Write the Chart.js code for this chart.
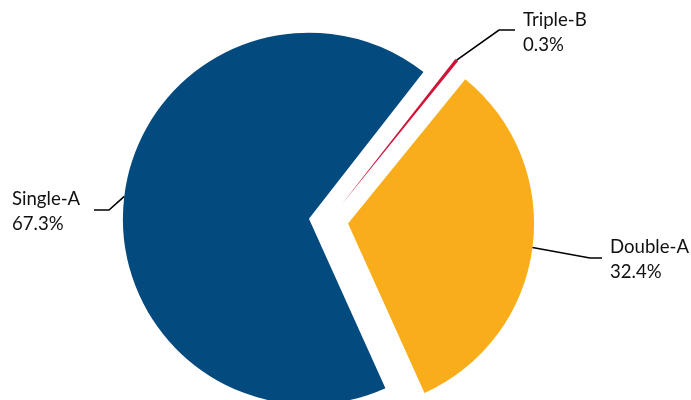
<!DOCTYPE html>
<html>
<head>
<meta charset="utf-8">
<script src="https://cdn.jsdelivr.net/npm/chart.js@4.4.1/dist/chart.umd.min.js"></script>
<style>
  html, body { margin: 0; padding: 0; background: #fff; overflow: hidden; }
  #wrap { position: relative; width: 691px; height: 400px; }
</style>
</head>
<body>
<div id="wrap"><canvas id="pieCanvas"></canvas></div>
<script>
// Datos del gráfico (orden horario desde arriba)
const categorias = ['Triple-B', 'Double-A', 'Single-A'];
const valores = [0.3, 32.4, 67.3];
const etiquetasPct = ['0.3%', '32.4%', '67.3%'];
const colores = ['#D0153A', '#F9AD1A', '#034A7E'];

// Separación de las porciones (px) y disposición de las etiquetas
const separacion = 19.7;
const guias = [
  { codo: [499, 30], fin: [515, 30], texto: [523, 26], alinear: 'left' },
  { codo: [590, 258], fin: [602, 258], texto: [610, 253], alinear: 'left' },
  { codo: [109, 210], fin: [94, 210], texto: [12, 205], alinear: 'left' }
];

// Dibuja cada porción desplazada hacia afuera (pie explotado)
const explotar = {
  id: 'explotar',
  beforeDatasetDraw(chart, args) {
    const ctx = chart.ctx;
    args.meta.data.forEach((arc) => {
      const mid = (arc.startAngle + arc.endAngle) / 2;
      ctx.save();
      ctx.translate(Math.cos(mid) * separacion, Math.sin(mid) * separacion);
      arc.draw(ctx);
      ctx.restore();
    });
    return false;
  }
};

// Líneas guía y etiquetas
const etiquetas = {
  id: 'etiquetas',
  afterDatasetsDraw(chart) {
    const ctx = chart.ctx;
    const meta = chart.getDatasetMeta(0);
    meta.data.forEach((arc, i) => {
      const mid = (arc.startAngle + arc.endAngle) / 2;
      const cx = arc.x + Math.cos(mid) * separacion;
      const cy = arc.y + Math.sin(mid) * separacion;
      const x0 = cx + Math.cos(mid) * arc.outerRadius;
      const y0 = cy + Math.sin(mid) * arc.outerRadius;
      const g = guias[i];
      ctx.save();
      ctx.strokeStyle = '#000';
      ctx.lineWidth = 1.6;
      ctx.beginPath();
      ctx.moveTo(x0, y0);
      ctx.lineTo(g.codo[0], g.codo[1]);
      ctx.lineTo(g.fin[0], g.fin[1]);
      ctx.stroke();
      ctx.fillStyle = '#111';
      ctx.font = '18.6px Lato';
      ctx.textAlign = g.alinear;
      ctx.textBaseline = 'alphabetic';
      ctx.fillText(categorias[i], g.texto[0], g.texto[1]);
      ctx.fillText(etiquetasPct[i], g.texto[0], g.texto[1] + 25);
      ctx.restore();
    });
  }
};

const ctx = document.getElementById('pieCanvas').getContext('2d');
const chart = new Chart(ctx, {
  type: 'pie',
  data: {
    labels: categorias,
    datasets: [{
      data: valores,
      backgroundColor: colores,
      borderWidth: 0,
      radius: 186
    }]
  },
  options: {
    responsive: true,
    maintainAspectRatio: false,
    animation: false,
    rotation: 38,
    layout: { padding: { left: 0, right: 34, top: 42, bottom: 0 } },
    plugins: {
      legend: { display: false },
      tooltip: { enabled: false }
    }
  },
  plugins: [explotar, etiquetas]
});
</script>
</body>
</html>
